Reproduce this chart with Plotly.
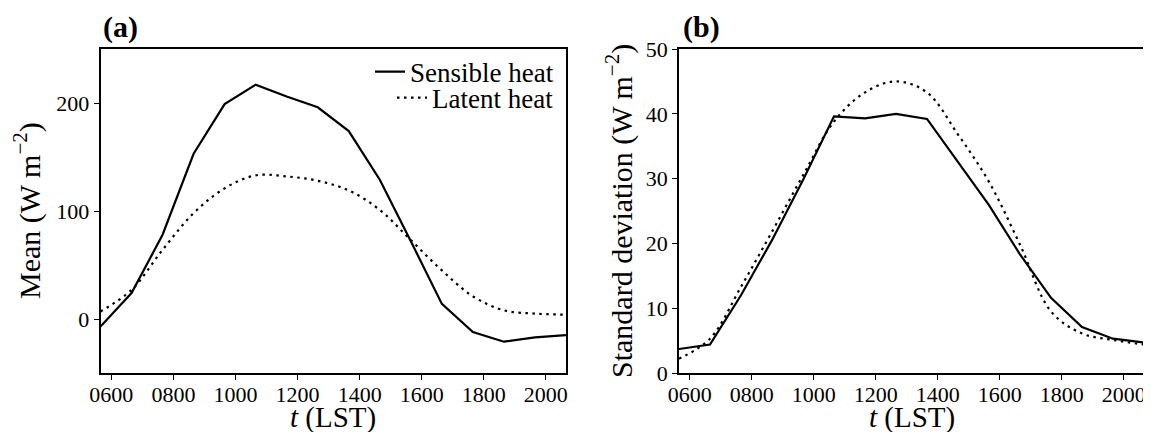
import plotly.graph_objects as go

# Data (time in HHMM-like decimal hours x100)
t = [565, 665, 765, 865, 965, 1065, 1165, 1265, 1365, 1465, 1565, 1665, 1765, 1865, 1965, 2065]
mean_sensible = [-7, 24, 78, 153, 199, 217, 206, 196, 174, 129, 72, 14, -12, -21, -17, -15]
mean_latent = [7, 27, 64, 98, 121, 133, 132, 128, 119, 101, 73, 45, 21, 8, 5, 4]
std_sensible = [3.7, 4.4, 12.0, 20.5, 29.8, 39.6, 39.3, 40.0, 39.2, 32.6, 25.9, 18.3, 11.6, 7.1, 5.3, 4.7]
std_latent = [2.2, 5.3, 13.3, 21.8, 30.5, 38.8, 43.3, 45.0, 43.3, 36.8, 29.5, 19.8, 9.5, 6.1, 5.1, 4.4]

xtick_vals = [600, 800, 1000, 1200, 1400, 1600, 1800, 2000]
xtick_text = ["0600", "0800", "1000", "1200", "1400", "1600", "1800", "2000"]

FONT = "Liberation Serif"
DOT = "2.5px,4.5px"
TICK_SIZE = 22
LABEL_SIZE = 29
LEGEND_SIZE = 27

W, H = 1151, 432
OFF = 8  # page body margin offset


def px(x):
    return (x - OFF) / W


def py(y):
    return 1 - (y - OFF) / H


fig = go.Figure()
fig.add_trace(go.Scatter(x=t, y=mean_sensible, mode="lines", name="Sensible heat",
                         line=dict(color="black", width=2.2), xaxis="x", yaxis="y",
                         legend="legend"))
fig.add_trace(go.Scatter(x=t, y=mean_latent, mode="lines", name="Latent heat",
                         line=dict(color="black", width=2.2, dash=DOT, shape="spline"),
                         xaxis="x", yaxis="y", legend="legend2"))
fig.add_trace(go.Scatter(x=t, y=std_sensible, mode="lines", showlegend=False,
                         line=dict(color="black", width=2.2), xaxis="x2", yaxis="y2"))
fig.add_trace(go.Scatter(x=t, y=std_latent, mode="lines", showlegend=False,
                         line=dict(color="black", width=2.2, dash=DOT, shape="spline"),
                         xaxis="x2", yaxis="y2"))

ya = [py(373), py(49)]
axis_common = dict(showline=True, linecolor="black", linewidth=1.8, mirror=True,
                   ticks="outside", ticklen=5, tickwidth=1.3, tickcolor="black",
                   showgrid=False, zeroline=False, automargin=False,
                   ticklabeloverflow="allow",
                   tickfont=dict(family=FONT, size=TICK_SIZE, color="black"))

legend_common = dict(xanchor="right", yanchor="middle", bgcolor="rgba(255,255,255,0)",
                     font=dict(family=FONT, size=LEGEND_SIZE), itemwidth=30)

fig.update_layout(
    width=W, height=H,
    margin=dict(l=0, r=0, t=0, b=0, autoexpand=False),
    plot_bgcolor="white", paper_bgcolor="white",
    font=dict(family=FONT, color="black"),
    xaxis=dict(domain=[px(100.5), px(566)], range=[565, 2065], tickvals=xtick_vals,
               ticktext=xtick_text, anchor="y", **axis_common),
    yaxis=dict(domain=ya, range=[-50, 250], tickvals=[0, 100, 200], anchor="x", **axis_common),
    xaxis2=dict(domain=[px(679), px(1144)], range=[565, 2065], tickvals=xtick_vals,
                ticktext=xtick_text, anchor="y2", **axis_common),
    yaxis2=dict(domain=ya, range=[0, 50], tickvals=[0, 10, 20, 30, 40, 50], anchor="x2",
                **axis_common),
    legend=dict(x=px(559), y=py(72), **legend_common),
    legend2=dict(x=px(559), y=py(98), **legend_common),
    showlegend=True,
    annotations=[
        dict(text="<b>(a)</b>", x=px(101), y=py(27), xref="paper", yref="paper",
             xanchor="left", yanchor="middle", showarrow=False,
             font=dict(family=FONT, size=30, color="black")),
        dict(text="<b>(b)</b>", x=px(681), y=py(27), xref="paper", yref="paper",
             xanchor="left", yanchor="middle", showarrow=False,
             font=dict(family=FONT, size=30, color="black")),
        dict(text="<i>t</i> (LST)", x=px(333), y=py(417), xref="paper", yref="paper",
             xanchor="center", yanchor="middle", showarrow=False,
             font=dict(family=FONT, size=LABEL_SIZE, color="black")),
        dict(text="<i>t</i> (LST)", x=px(911.5), y=py(417), xref="paper", yref="paper",
             xanchor="center", yanchor="middle", showarrow=False,
             font=dict(family=FONT, size=LABEL_SIZE, color="black")),
        dict(text="Mean (W m<sup>−2</sup>)", x=px(27), y=py(211), xref="paper", yref="paper",
             xanchor="center", yanchor="middle", showarrow=False, textangle=-90,
             font=dict(family=FONT, size=30, color="black")),
        dict(text="Standard deviation (W m<sup>−2</sup>)", x=px(619), y=py(211),
             xref="paper", yref="paper", xanchor="center", yanchor="middle",
             showarrow=False, textangle=-90,
             font=dict(family=FONT, size=30, color="black")),
    ],
)

try:
    fig.update_xaxes(ticklabelstandoff=-4)
except Exception:
    pass

fig.write_html("out.html")
